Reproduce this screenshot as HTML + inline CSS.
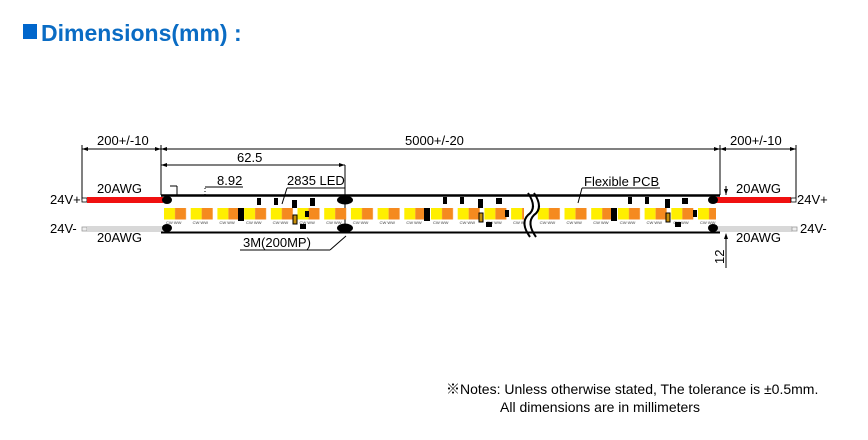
<!DOCTYPE html>
<html><head><meta charset="utf-8"><style>
html,body{margin:0;padding:0;background:#fff;width:868px;height:440px;overflow:hidden}
svg{display:block}
text{font-family:"Liberation Sans","Noto Sans CJK SC",sans-serif}
</style></head><body>
<svg width="868" height="440" viewBox="0 0 868 440" xmlns="http://www.w3.org/2000/svg">
<defs>
<pattern id="leds" x="164" y="0" width="26.7" height="440" patternUnits="userSpaceOnUse">
<rect x="0" y="208" width="11" height="11.5" fill="#ffef00"/>
<rect x="11" y="208" width="11" height="11.5" fill="#f58a1f"/>
<text x="2" y="224" font-size="4" fill="#333">CW WW</text>
</pattern>
</defs>
<!-- title -->
<rect x="23" y="24" width="14" height="15" fill="#0066cc"/>
<text x="41" y="41" font-size="23" font-weight="bold" fill="#0a6cc4">Dimensions(mm) :</text>

<g stroke="#000" stroke-width="1" fill="none">
<line x1="82" y1="145" x2="82" y2="200"/>
<line x1="161" y1="145" x2="161" y2="195"/>
<line x1="720" y1="145" x2="720" y2="195"/>
<line x1="796" y1="145" x2="796" y2="200"/>
<line x1="82" y1="149" x2="796" y2="149"/>
<line x1="161" y1="165" x2="345" y2="165"/>
<line x1="345" y1="165" x2="345" y2="233"/>
<line x1="177" y1="186" x2="177" y2="195"/>
<line x1="170" y1="186" x2="177" y2="186"/>
<line x1="205" y1="188" x2="205" y2="195" stroke-dasharray="1,2"/>
<line x1="205" y1="187" x2="243" y2="187"/>
<line x1="287" y1="188" x2="345" y2="188"/>
<line x1="287" y1="188" x2="282" y2="204"/>
<line x1="582" y1="188" x2="660" y2="188"/>
<line x1="582" y1="188" x2="578" y2="203"/>
<line x1="240" y1="250" x2="330" y2="250"/>
<line x1="330" y1="250" x2="346" y2="236"/>
<line x1="726" y1="186" x2="726" y2="195"/>
<line x1="726" y1="234" x2="726" y2="268"/>
</g>
<g fill="#000">
<polygon points="82,149 88,147 88,151"/><polygon points="161,149 155,147 155,151"/>
<polygon points="161,149 167,147 167,151"/><polygon points="720,149 714,147 714,151"/>
<polygon points="720,149 726,147 726,151"/><polygon points="796,149 790,147 790,151"/>
<polygon points="161,165 167,163 167,167"/><polygon points="345,165 339,163 339,167"/>
<polygon points="726,195 724,189 728,189"/><polygon points="726,233 724,239 728,239"/>
</g>
<g font-size="13" fill="#000">
<text x="97" y="145">200+/-10</text>
<text x="405" y="145">5000+/-20</text>
<text x="730" y="145">200+/-10</text>
<text x="237" y="162">62.5</text>
<text x="217" y="185">8.92</text>
<text x="287" y="185">2835 LED</text>
<text x="584" y="186">Flexible PCB</text>
<text x="243" y="247">3M(200MP)</text>
<text x="97" y="193">20AWG</text>
<text x="97" y="242">20AWG</text>
<text x="736" y="193">20AWG</text>
<text x="736" y="242">20AWG</text>
<text x="50" y="204">24V+</text>
<text x="50" y="233">24V-</text>
<text x="797" y="204">24V+</text>
<text x="800" y="233">24V-</text>
<text x="0" y="0" transform="translate(724,264) rotate(-90)">12</text>
</g>

<rect x="82" y="198" width="5" height="4" fill="#fff" stroke="#000" stroke-width="0.8"/>
<rect x="87" y="197" width="76" height="6" fill="#f01010"/>
<rect x="82" y="227" width="5" height="4" fill="#eee" stroke="#999" stroke-width="0.8"/>
<rect x="87" y="226" width="76" height="6" fill="#d8d8d8"/>
<rect x="716" y="197" width="75" height="6" fill="#f01010"/>
<rect x="791" y="198" width="5" height="4" fill="#fff" stroke="#000" stroke-width="0.8"/>
<rect x="716" y="226" width="76" height="6" fill="#d8d8d8"/>
<rect x="792" y="227" width="5" height="4" fill="#eee" stroke="#999" stroke-width="0.8"/>

<line x1="161" y1="195.5" x2="720" y2="195.5" stroke="#000" stroke-width="2.5"/>
<line x1="161" y1="232.5" x2="720" y2="232.5" stroke="#000" stroke-width="2"/>
<rect x="164" y="205" width="552" height="22" fill="url(#leds)"/>
<rect x="524" y="197" width="12" height="34" fill="#fff"/>
<path d="M528 193 q10 15 0 22 q-8 8 2 22" stroke="#000" stroke-width="2" fill="none"/>
<path d="M534 193 q10 15 0 22 q-8 8 2 22" stroke="#000" stroke-width="2" fill="none"/>
<g fill="#000">
<ellipse cx="167" cy="200" rx="5" ry="4"/><ellipse cx="167" cy="228" rx="5" ry="4"/>
<ellipse cx="345" cy="200" rx="8" ry="4.5"/><ellipse cx="345" cy="228" rx="8" ry="4.5"/>
<ellipse cx="713" cy="200" rx="5" ry="4"/><ellipse cx="713" cy="228" rx="5" ry="4"/>
<rect x="257" y="198" width="4" height="7"/><rect x="274" y="198" width="4" height="7"/>
<rect x="292" y="200" width="5" height="8"/><rect x="305" y="211" width="4" height="6"/>
<rect x="310" y="198" width="5" height="8"/><rect x="300" y="224" width="6" height="5"/>
<rect x="238" y="208" width="6" height="13"/><rect x="424" y="208" width="6" height="13"/>
<rect x="443" y="197" width="4" height="7"/><rect x="460" y="197" width="4" height="7"/>
<rect x="478" y="199" width="5" height="9"/><rect x="505" y="210" width="4" height="7"/>
<rect x="496" y="198" width="6" height="6"/><rect x="486" y="222" width="6" height="5"/>
<rect x="611" y="208" width="6" height="13"/><rect x="628" y="197" width="4" height="7"/>
<rect x="645" y="197" width="4" height="7"/><rect x="665" y="199" width="5" height="9"/>
<rect x="682" y="198" width="6" height="6"/><rect x="693" y="210" width="4" height="7"/>
<rect x="675" y="222" width="6" height="5"/>
</g>
<rect x="293" y="215" width="4" height="9" fill="#c8900a" stroke="#000" stroke-width="1"/>
<rect x="479" y="213" width="4" height="9" fill="#c8900a" stroke="#000" stroke-width="1"/>
<rect x="666" y="213" width="4" height="9" fill="#c8900a" stroke="#000" stroke-width="1"/>

<text x="446" y="394" font-size="14" fill="#000">※Notes: Unless otherwise stated, The tolerance is  ±0.5mm.</text>
<text x="500" y="412" font-size="14" fill="#000">All dimensions are in millimeters</text>
</svg>
</body></html>
